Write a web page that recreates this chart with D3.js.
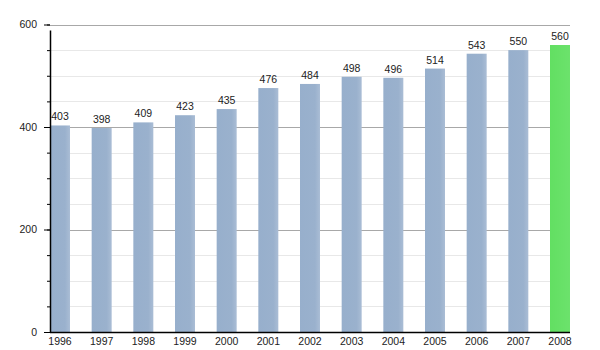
<!DOCTYPE html>
<html><head><meta charset="utf-8">
<script src="https://cdn.jsdelivr.net/npm/d3@7"></script>
<style>body{margin:0;background:#fff}svg{display:block}text{font-family:"Liberation Sans",Arial,sans-serif}</style>
</head><body><svg id="c" width="600" height="350"></svg>
<script>
const years = ["1996","1997","1998","1999","2000","2001","2002","2003","2004","2005","2006","2007","2008"];
const values = [403,398,409,423,435,476,484,498,496,514,543,550,560];
const highlight = ["2008"];
const majorTicks = [0,200,400,600];
const minorTicks = d3.range(0,601,50);

const svg = d3.select("#c");
const L=50, R=570, T=24.5, B=332;
const FS = 10.5;
const x = d3.scaleBand().domain(years).range([L,R]).paddingInner(0.52).paddingOuter(0);
const y = d3.scaleLinear().domain([0,600]).range([B,T]);

const defs = svg.append("defs");
const gb = defs.append("linearGradient").attr("id","gb");
gb.append("stop").attr("offset","0%").attr("stop-color","#97afcc");
gb.append("stop").attr("offset","75%").attr("stop-color","#9ab1cd");
gb.append("stop").attr("offset","100%").attr("stop-color","#aabdd5");
const gg = defs.append("linearGradient").attr("id","gg");
gg.append("stop").attr("offset","0%").attr("stop-color","#62df62");
gg.append("stop").attr("offset","100%").attr("stop-color","#6ce26c");

// minor gridlines
svg.append("g").selectAll("line").data(minorTicks.filter(v=>!majorTicks.includes(v)))
  .join("line").attr("x1",L).attr("x2",R).attr("y1",d=>Math.round(y(d))+0.5).attr("y2",d=>Math.round(y(d))+0.5)
  .attr("stroke","#e8e8e8").attr("stroke-width",1);
// major gridlines
svg.append("g").selectAll("line").data(majorTicks.filter(v=>v>0))
  .join("line").attr("x1",L).attr("x2",R).attr("y1",d=>Math.round(y(d))+0.5).attr("y2",d=>Math.round(y(d))+0.5)
  .attr("stroke","#a8a8a8").attr("stroke-width",1);

// bars
svg.append("g").selectAll("rect").data(years)
  .join("rect")
  .attr("x",d=>x(d)).attr("width",x.bandwidth())
  .attr("y",(d,i)=>y(values[i])).attr("height",(d,i)=>B-y(values[i]))
  .attr("fill",d=>highlight.includes(d)?"url(#gg)":"url(#gb)");

// value labels
svg.append("g").selectAll("text").data(years)
  .join("text")
  .attr("x",d=>x(d)+x.bandwidth()/2).attr("y",(d,i)=>y(values[i])-5)
  .attr("text-anchor","middle").attr("font-size",FS).attr("fill","#222")
  .text((d,i)=>values[i]);

// y axis
const yAxisMinor = d3.axisLeft(y).tickValues(minorTicks).tickSize(3).tickFormat("");
svg.append("g").attr("transform",`translate(${L},0)`).call(yAxisMinor)
  .call(g=>g.select(".domain").remove())
  .call(g=>g.selectAll("line").attr("stroke","#000"));
const yAxis = d3.axisLeft(y).tickValues(majorTicks).tickSize(6).tickPadding(7).tickFormat(d3.format("d"));
svg.append("g").attr("transform",`translate(${L},0)`).call(yAxis)
  .call(g=>g.select(".domain").remove())
  .call(g=>g.selectAll("line").attr("stroke","#000"))
  .call(g=>g.selectAll("text").attr("font-size",FS).attr("fill","#222").attr("font-family","Liberation Sans, Arial, sans-serif"));
svg.append("line").attr("x1",L+0.5).attr("x2",L+0.5).attr("y1",T+6).attr("y2",B+1).attr("stroke","#000").attr("stroke-width",1.5);

// x axis
const xAxis = d3.axisBottom(x).tickSize(0).tickPadding(6);
svg.append("g").attr("transform",`translate(0,${B})`).call(xAxis)
  .call(g=>g.select(".domain").remove())
  .call(g=>g.selectAll("text").attr("font-size",FS).attr("fill","#222").attr("font-family","Liberation Sans, Arial, sans-serif"));
svg.append("line").attr("x1",L).attr("x2",R).attr("y1",B+0.5).attr("y2",B+0.5).attr("stroke","#000").attr("stroke-width",1.5);
</script></body></html>
